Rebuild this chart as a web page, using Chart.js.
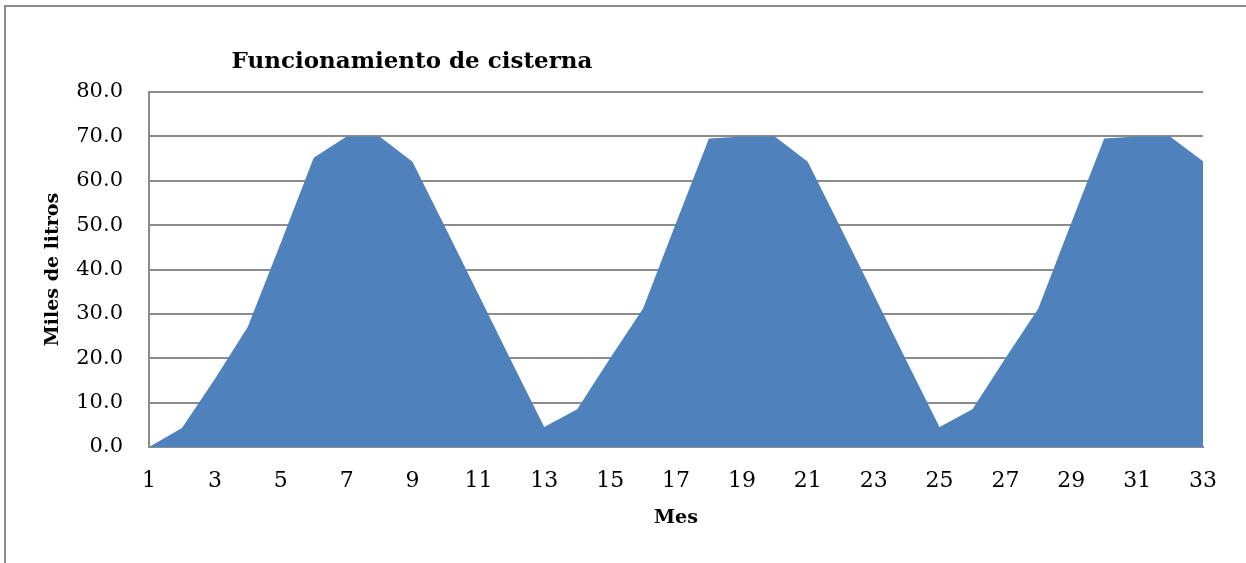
<!DOCTYPE html>
<html>
<head>
<meta charset="utf-8">
<script src="https://cdn.jsdelivr.net/npm/chart.js@4"></script>
<style>
html,body{margin:0;padding:0;background:#fff;}
#wrap{position:relative;width:1246px;height:563px;}
#frame{position:absolute;left:4px;top:5px;right:0;bottom:0;border-top:2px solid #8c8c8c;border-left:2px solid #8c8c8c;}
canvas{position:absolute;left:0;top:0;}
</style>
</head>
<body>
<div id="wrap">
<div id="frame"></div>
<canvas id="cisternChart" width="1246" height="563"></canvas>
</div>
<script>
/* DATA */
const meses=["1","2","3","4","5","6","7","8","9","10","11","12","13","14","15","16","17","18","19","20","21","22","23","24","25","26","27","28","29","30","31","32","33"];
const litros=[0,4.3,15.3,27.1,46.0,65.2,70.0,70.0,64.3,49.4,34.4,19.4,4.5,8.5,20.0,31.2,50.5,69.5,70.0,70.0,64.3,49.4,34.4,19.4,4.5,8.5,20.0,31.2,50.5,69.5,70.0,70.0,64.4];
const yTicks=[0,10,20,30,40,50,60,70,80];
const chartTitle="Funcionamiento de cisterna";

const serif="'DejaVu Serif', serif";

/* TITLE drawn left of centre, like the original */
const titlePlugin={
    id:"leftTitle",
    afterDraw(chart){
        const ctx=chart.ctx;
        ctx.save();
        ctx.font="bold 23px "+serif;
        ctx.fillStyle="#000";
        ctx.textAlign="center";
        ctx.textBaseline="middle";
        ctx.fillText(chartTitle,chart.chartArea.left+263,chart.chartArea.top-30);
        ctx.restore();
    }
};

new Chart(
document.getElementById("cisternChart"),
{
    type:"line",
    data:{
        labels:meses,
        datasets:[{
            data:litros,
            fill:"origin",
            backgroundColor:"#4f81bd",
            borderWidth:0,
            pointRadius:0,
            tension:0
        }]
    },
    options:{
        responsive:false,
        animation:false,
        layout:{padding:{left:0,right:43,top:92,bottom:0}},
        plugins:{legend:{display:false},tooltip:{enabled:false}},
        scales:{
            x:{
                offset:false,
                grid:{display:false,drawTicks:false},
                border:{display:true,color:"#8c8c8c",width:2},
                ticks:{
                    autoSkip:false,maxRotation:0,padding:21,color:"#000",
                    font:{family:serif,size:22},
                    callback:function(v,i){return i%2===0?meses[i]:"";}
                },
                title:{display:true,text:"Mes",color:"#000",
                    font:{family:serif,size:19,weight:"bold"},padding:{bottom:34}},
                afterFit:function(s){s.height=116;}
            },
            y:{
                min:0,max:80,
                afterBuildTicks:function(s){s.ticks=yTicks.map(v=>({value:v}));},
                grid:{color:"#8c8c8c",lineWidth:2,drawTicks:false},
                border:{display:true,color:"#8c8c8c",width:2},
                ticks:{padding:26,color:"#000",font:{family:serif,size:21},
                    callback:function(v){return v.toFixed(1);}},
                title:{display:true,text:"Miles de litros",color:"#000",
                    font:{family:serif,size:19,weight:"bold"},padding:{top:42}},
                afterFit:function(s){s.width=149;}
            }
        }
    },
    plugins:[titlePlugin]
});
</script>
</body>
</html>
